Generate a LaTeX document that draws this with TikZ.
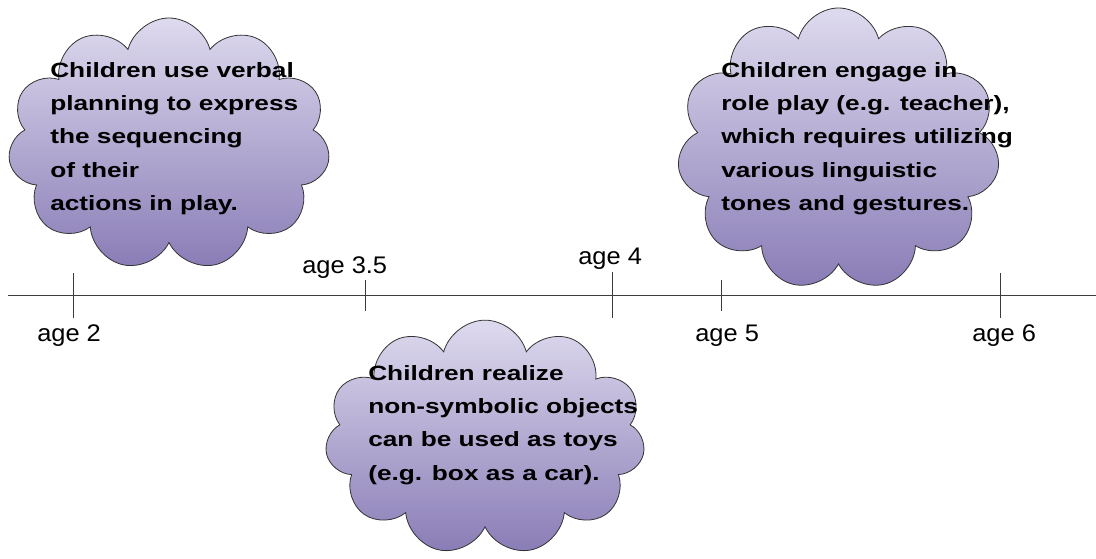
\documentclass[tikz,border=0pt]{standalone}
\usepackage{fontspec}
\setmainfont{Liberation Sans}
\newfontfamily\cloudfont[FakeStretch=1.27]{Liberation Sans}
\newfontfamily\agefont[FakeStretch=1.06]{Liberation Sans}
\usetikzlibrary{shapes.symbols}

\definecolor{cloudtop}{RGB}{222,218,238}
\definecolor{cloudbot}{RGB}{137,124,182}
\definecolor{axisgray}{RGB}{60,60,60}

\tikzset{
  puff/.style={cloud, cloud puffs=11, cloud ignores aspect, draw=black!80, line width=0.6pt,
    top color=cloudtop, bottom color=cloudbot, inner sep=0pt},
  cloudtext/.style={anchor=north west, inner sep=0pt, align=left,
    font=\cloudfont\bfseries\fontsize{15.5}{25}\selectfont},
  agelabel/.style={anchor=base west, inner sep=0pt, font=\agefont\fontsize{18}{20}\selectfont},
  axisline/.style={draw=axisgray, line width=0.7pt}
}

\begin{document}
\begin{tikzpicture}[x=0.75pt,y=0.75pt,yscale=-1,xscale=1]
        \useasboundingbox (0,0) rectangle (1096,559);

        %Shape: Cloud [id:cl2]
        \node [puff, minimum width=241.5pt, minimum height=189pt] (cloudtwo) at (169,144) {};
        %Shape: Cloud [id:cl5]
        \node [puff, minimum width=242pt, minimum height=211.5pt] (cloudfive) at (838.5,149) {};
        %Shape: Cloud [id:cl4]
        \node [puff, minimum width=240pt, minimum height=176pt] (cloudfour) at (485,437.5) {};

        %Straight Lines [id:axis]
        \coordinate (axisL) at (8,295);
        \coordinate (axisR) at (1096,295);
        \draw [axisline] (axisL) -- (axisR) ;

        %Straight Lines [id:ticks]
        \coordinate (tTwoA) at (73,273);    \coordinate (tTwoB) at (73,318);
        \coordinate (tThrA) at (365,280);   \coordinate (tThrB) at (365,311);
        \coordinate (tFouA) at (612,272);   \coordinate (tFouB) at (612,318);
        \coordinate (tFivA) at (721,280);   \coordinate (tFivB) at (721,311);
        \coordinate (tSixA) at (1000,273);  \coordinate (tSixB) at (1000,318);
        \draw [axisline] (tTwoA) -- (tTwoB) ;
        \draw [axisline] (tThrA) -- (tThrB) ;
        \draw [axisline] (tFouA) -- (tFouB) ;
        \draw [axisline] (tFivA) -- (tFivB) ;
        \draw [axisline] (tSixA) -- (tSixB) ;

        % Text Node
        \node [agelabel] (agetwo) at (37,342) {age 2};
        % Text Node
        \node [agelabel] (agethree) at (302,274) {age 3.5};
        % Text Node
        \node [agelabel] (agefour) at (578,265) {age 4};
        % Text Node
        \node [agelabel] (agefive) at (695,342) {age 5};
        % Text Node
        \node [agelabel] (agesix) at (972,342) {age 6};

        % Text Node
        \node [cloudtext] (texttwo) at (50,62) {Children use verbal\\planning to express\\the sequencing\\of their\\actions in play.};
        % Text Node
        \node [cloudtext] (textfive) at (721,62) {Children engage in\\role play (e.g. teacher),\\which requires utilizing\\various linguistic\\tones and gestures.};
        % Text Node
        \node [cloudtext] (textfour) at (368,365) {Children realize\\non-symbolic objects\\can be used as toys\\(e.g. box as a car).};

\end{tikzpicture}
\end{document}
